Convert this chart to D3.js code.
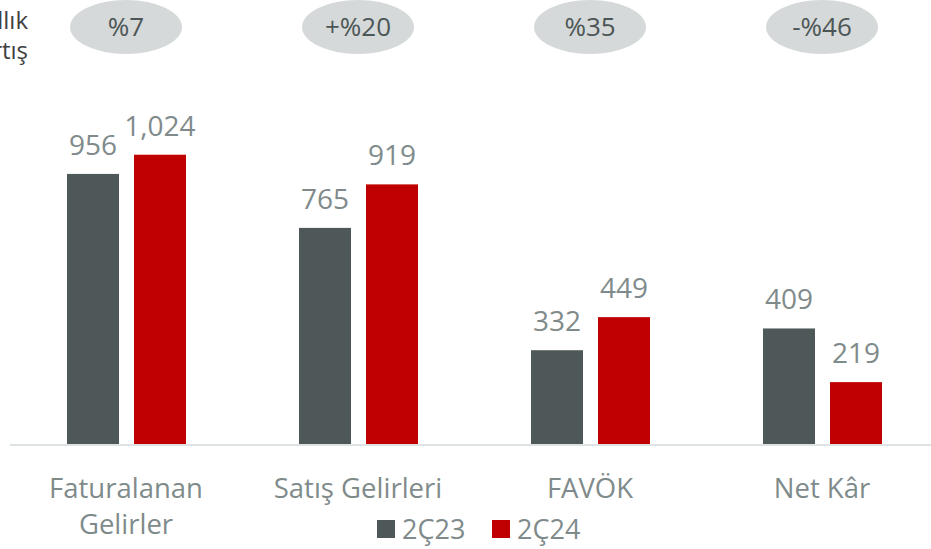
<!DOCTYPE html>
<html>
<head>
<meta charset="utf-8">
<script src="https://cdn.jsdelivr.net/npm/d3@7"></script>
<style>
  body { margin: 0; background: #fff; }
  svg { display: block; font-family: "Open Sans", sans-serif; }
</style>
</head>
<body>
<script>
// veriler
const categories = [["Faturalanan", "Gelirler"], ["Satış Gelirleri"], ["FAVÖK"], ["Net Kâr"]]
const series = ["2Ç23", "2Ç24"]
const values2Q23 = [956, 765, 332, 409]
const values2Q24 = [1024, 919, 449, 219]
const valueLabels2Q23 = ["956", "765", "332", "409"]
const valueLabels2Q24 = ["1,024", "919", "449", "219"]
const growth = ["%7", "+%20", "%35", "-%46"]

const colors = ["#4f5858", "#c00000"]
const textGray = "#7f8b8b"

const width = 931, height = 549

const svg = d3.select("body")
    .append("svg")
    .attr("width", width)
    .attr("height", height)

const x = d3.scaleBand()
    .domain(d3.range(categories.length))
    .range([10, 938])

const x1 = d3.scaleBand()
    .domain(series)
    .range([57, 176])
    .paddingInner(0.224)

const y = d3.scaleLinear()
    .domain([0, 1200])
    .range([444, 105])

// eksen çizgisi
svg.append("line")
    .attr("x1", 10)
    .attr("x2", width)
    .attr("y1", y(0) + 1)
    .attr("y2", y(0) + 1)
    .attr("stroke", "#dde2e2")
    .attr("stroke-width", 2)

const rows = categories.map((c, i) => [
    { s: series[0], v: values2Q23[i], l: valueLabels2Q23[i] },
    { s: series[1], v: values2Q24[i], l: valueLabels2Q24[i] }
])

const groups = svg.selectAll(".grp")
    .data(rows)
    .enter()
    .append("g")
    .attr("class", "grp")
    .attr("transform", (d, i) => `translate(${x(i)},0)`)

groups.selectAll("rect")
    .data(d => d)
    .enter()
    .append("rect")
    .attr("x", d => x1(d.s))
    .attr("y", d => y(d.v))
    .attr("width", x1.bandwidth())
    .attr("height", d => y(0) - y(d.v))
    .attr("fill", (d, i) => colors[i])

groups.selectAll(".val")
    .data(d => d)
    .enter()
    .append("text")
    .attr("class", "val")
    .attr("x", d => x1(d.s) + x1.bandwidth() / 2)
    .attr("y", d => y(d.v) - 19)
    .attr("text-anchor", "middle")
    .attr("font-size", 28)
    .attr("fill", textGray)
    .text(d => d.l)

// kategori etiketleri
groups.append("text")
    .attr("text-anchor", "middle")
    .attr("font-size", 27.5)
    .attr("fill", textGray)
    .selectAll("tspan")
    .data((d, i) => categories[i])
    .enter()
    .append("tspan")
    .attr("x", x.bandwidth() / 2)
    .attr("y", (d, j) => 498 + j * 36)
    .text(d => d)

// büyüme elipsleri
const bubbles = svg.selectAll(".bubble")
    .data(growth)
    .enter()
    .append("g")
    .attr("class", "bubble")
    .attr("transform", (d, i) => `translate(${x(i) + x.bandwidth() / 2},27)`)

bubbles.append("ellipse")
    .attr("rx", 56)
    .attr("ry", 27)
    .attr("fill", "#d5d9d9")

bubbles.append("text")
    .attr("text-anchor", "middle")
    .attr("dy", 9)
    .attr("font-size", 26)
    .attr("fill", "#4d5656")
    .text(d => d)

// kesik başlık (referansta sol kenarda kesik)
svg.append("text")
    .attr("text-anchor", "end")
    .attr("font-size", 24)
    .attr("fill", "#404040")
    .selectAll("tspan")
    .data(["Yıllık", "artış"])
    .enter()
    .append("tspan")
    .attr("x", 28)
    .attr("y", (d, i) => 29 + i * 30)
    .text(d => d)

// lejant
const legend = svg.append("g")
    .attr("transform", "translate(377,529)")

const items = legend.selectAll("g")
    .data(series)
    .enter()
    .append("g")
    .attr("transform", (d, i) => `translate(${i * 115},0)`)

items.append("rect")
    .attr("y", -9)
    .attr("width", 18)
    .attr("height", 18)
    .attr("fill", (d, i) => colors[i])

items.append("text")
    .attr("x", 25)
    .attr("dy", 10)
    .attr("font-size", 27)
    .attr("fill", textGray)
    .text(d => d)
</script>
</body>
</html>
